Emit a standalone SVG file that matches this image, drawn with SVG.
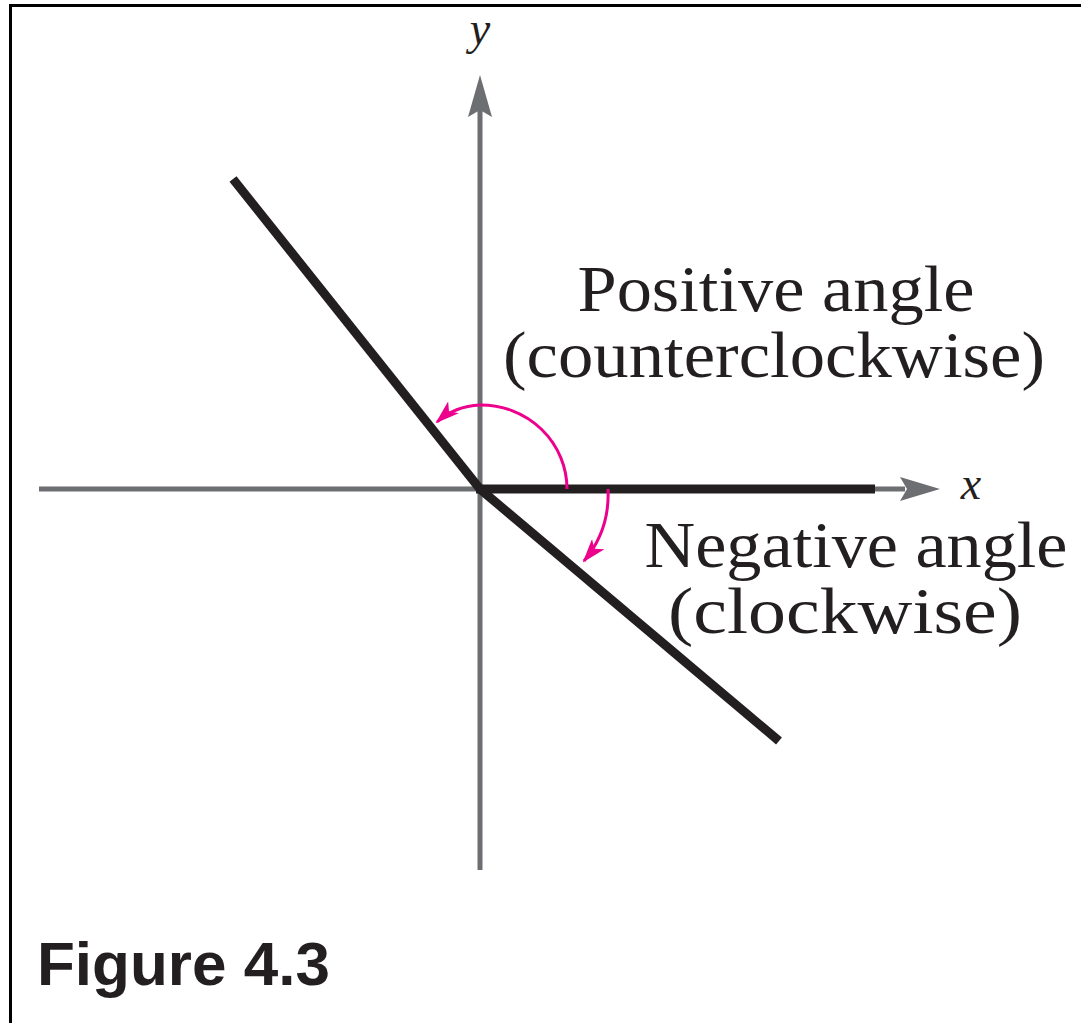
<svg xmlns="http://www.w3.org/2000/svg" width="1081" height="1023" viewBox="0 0 1081 1023">
<style>
.axis{stroke:#6d6e71;stroke-width:5;fill:none}
.side{stroke:#231f20;stroke-width:9;fill:none;stroke-linecap:butt}
.arc{stroke:#ec008c;stroke-width:3;fill:none}
.lbl{font-family:"Liberation Serif",serif;font-size:66px;fill:#231f20}
.var{font-family:"Liberation Serif",serif;font-style:italic;font-size:46px;fill:#231f20}
.cap{font-family:"Liberation Sans",Arial,sans-serif;font-weight:bold;font-size:62px;fill:#231f20}
</style>
<defs>
<marker id="pink" viewBox="0 0 24 16" refX="22" refY="8" markerWidth="24" markerHeight="16" markerUnits="userSpaceOnUse" orient="auto">
<path d="M0,0 L24,8 L0,16 L6,8 Z" fill="#ec008c"/>
</marker>
</defs>
<rect width="1081" height="1023" fill="#ffffff"/>
<path d="M10.5,1023 V5.5 H1081" stroke="#000" stroke-width="3" fill="none"/>
<g id="axes">
<line class="axis" x1="39" y1="489" x2="905" y2="489"/>
<path d="M940,489 L900,477 L907,489 L900,501 Z" fill="#6d6e71"/>
<line class="axis" x1="480" y1="870" x2="480" y2="110"/>
<path d="M480,75 L468,117 L480,110 L492,117 Z" fill="#6d6e71"/>
<text class="var" x="480" y="44" text-anchor="middle">y</text>
<text class="var" x="971" y="499" text-anchor="middle">x</text>
</g>
<g id="sides">
<line class="side" x1="233" y1="179" x2="480" y2="489"/>
<line class="side" x1="476" y1="489" x2="875" y2="489"/>
<line class="side" x1="480" y1="489" x2="779" y2="741"/>
</g>
<g id="connectors">
<path class="arc" d="M567,489 A86,84 0 0 0 480,405 Q455,406 437,422" marker-end="url(#pink)"/>
<path class="arc" d="M608,489 Q610,530 584,561" marker-end="url(#pink)"/>
</g>
<g id="labels">
<text class="lbl" x="776" y="311" text-anchor="middle" textLength="397" lengthAdjust="spacingAndGlyphs">Positive angle</text>
<text class="lbl" x="774" y="377" text-anchor="middle" textLength="542" lengthAdjust="spacingAndGlyphs">(counterclockwise)</text>
<text class="lbl" x="856" y="567" text-anchor="middle" textLength="423" lengthAdjust="spacingAndGlyphs">Negative angle</text>
<text class="lbl" x="845" y="633" text-anchor="middle" textLength="354" lengthAdjust="spacingAndGlyphs">(clockwise)</text>
</g>
<text class="cap" x="37" y="985">Figure 4.3</text>
</svg>
